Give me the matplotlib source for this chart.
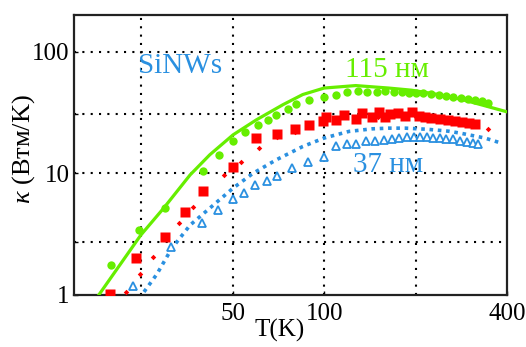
import matplotlib.pyplot as plt
import numpy as np

plt.rcParams['font.family'] = ['Liberation Serif', 'DejaVu Serif']
plt.rcParams['mathtext.fontset'] = 'custom'
plt.rcParams['mathtext.rm'] = 'Liberation Serif'
plt.rcParams['mathtext.it'] = 'Liberation Serif:italic'

# 115 nm fit (solid green line)
t_fit115 = [18.1, 24.9, 29.6, 36.2, 42.0, 50.1, 59.8, 73.1, 85.0, 100, 127, 163,
            194, 238, 283, 330, 400]
k_fit115 = [1.0, 3.11, 5.17, 9.72, 14.2, 20.7, 27.5, 36.6, 44.4, 50.2, 52.6, 50.2,
            48.2, 44.4, 40.5, 36.5, 32]

# 115 nm data (green circles)
t_dat115 = [19.8, 24.5, 30.0, 40, 45.1, 49.9, 54.7, 60.5, 65.2, 69.5, 75.8, 80.8,
            89.3, 100, 109.2, 119.2, 129.5, 138.6, 149.4, 159, 170, 180, 190, 200,
            212, 225, 238, 252, 266, 282, 298, 314, 330, 345]
k_dat115 = [1.77, 3.42, 5.23, 10.35, 14.2, 18.3, 21.8, 25.1, 27.2, 29.9, 34.0, 37.2,
            40.0, 42.0, 44.4, 46.5, 47.6, 46.5, 46.5, 47.6, 46.5, 46.8, 46.0, 46.0,
            45.3, 44.8, 44.0, 43.3, 42.6, 41.7, 40.8, 40.0, 39.0, 38.0]

# middle wire data (red squares)
t_red = [19.7, 24.0, 29.8, 34.7, 40, 49.9, 59.4, 70, 80.4, 88.9, 98.8, 101.3,
         109.2, 116.2, 127, 133.5, 144.1, 152, 159, 165, 175, 185, 195, 205, 215,
         225, 240, 255, 270, 285, 300, 314]
k_red = [1.02, 2.03, 3.02, 4.79, 7.18, 11.2, 19.5, 21.2, 23.2, 25.1, 26.7, 28.8,
         27.5, 29.9, 28.1, 31.3, 28.8, 31.6, 28.8, 30.5, 31.3, 29.5, 31.6, 29.8, 29.0,
         28.5, 28.0, 27.5, 27.0, 26.5, 26.0, 25.5]

# middle wire model (small red dots)
t_red2 = [22.3, 24.7, 27.3, 33.3, 37.0, 46.8, 53.1, 60.8, 70, 80, 100, 150, 200,
          250, 300, 347]
k_red2 = [1.06, 1.48, 2.04, 3.93, 5.33, 9.72, 12.5, 16.1, 19.8, 22, 26, 29, 29,
          27, 25, 23.1]

# 37 nm fit (blue dotted line)
t_fit37 = [25.5, 28.1, 31.5, 36.2, 42, 50.1, 58.3, 69.5, 85, 100, 120.7, 144, 163,
           185, 219, 256, 283, 338, 383]
k_fit37 = [1.06, 1.48, 2.42, 3.76, 5.17, 7.55, 10.0, 12.9, 16.6, 19.5, 22.1, 23.2,
           23.5, 23.5, 23.0, 22.2, 21.3, 19.5, 17.7]

# 37 nm data (blue triangles)
t_dat37 = [23.5, 31.3, 39.5, 44.8, 49.9, 54.6, 59.3, 64.8, 69.9, 78.6, 88.6, 99.5,
           109.7, 119.2, 127.6, 137.6, 147, 157, 167, 177, 187, 197, 207, 218, 229,
           240, 252, 265, 280, 295, 310, 320]
k_dat37 = [1.19, 2.5, 3.89, 5.0, 6.13, 6.86, 8.04, 8.66, 9.5, 11.1, 12.5, 13.7,
           16.8, 17.5, 17.5, 18.3, 18.3, 18.8, 19.2, 19.5, 19.7, 19.9, 19.9, 19.8,
           19.6, 19.4, 19.2, 19.0, 18.6, 18.2, 17.8, 17.4]

green = '#66ee00'
red = '#ff0000'
blue = '#2a90e0'

fig = plt.figure(figsize=(5.26, 3.47), dpi=100)
ax = fig.add_axes([0.1407, 0.1499, 0.8232, 0.8069])

ax.plot(t_fit115, k_fit115, '-', color=green, lw=2.3, zorder=3)
ax.plot(t_dat115, k_dat115, 'o', color=green, ms=6, mec='none', zorder=4)
ax.plot(t_red, k_red, 's', color=red, ms=6.5, mec='none', zorder=4)
ax.plot(t_red2, k_red2, 'D', color=red, ms=2.8, mec='none', zorder=4)
ax.plot(t_fit37, k_fit37, color=blue, lw=2.6, ls=(0, (1, 1.3)), zorder=3)
ax.plot(t_dat37, k_dat37, '^', mfc='white', mec=blue, mew=1.3, ms=6, zorder=4)

ax.set_xscale('log')
ax.set_yscale('log')
ax.set_xlim(15, 400)
ax.set_ylim(1, 200)

for xv in [25, 50, 100, 200]:
    ax.axvline(xv, color='black', lw=1.5, ls=(0, (1, 3)), zorder=1)
for yv in [2.7, 10, 31, 100]:
    ax.axhline(yv, color='black', lw=1.5, ls=(0, (1, 3)), zorder=1)

ax.set_xticks([50, 100, 400])
ax.set_xticklabels(['50', '100', '400'])
ax.set_xticks([], minor=True)
ax.set_yticks([1, 10, 100])
ax.set_yticklabels(['1', '10', '100'])
ax.set_yticks([2.7, 31], minor=True)
ax.tick_params(which='both', direction='in', length=3, width=1, labelsize=18)
ax.tick_params(axis='x', pad=6)
ax.tick_params(axis='y', pad=3)
ax.tick_params(which='minor', labelleft=False)

for s in ax.spines.values():
    s.set_linewidth(1.6)
    s.set_color('#222222')

ax.set_xlabel('T(K)', fontsize=18)
ax.xaxis.set_label_coords(0.476, -0.085)
ax.set_ylabel('$\\mathit{\\kappa}$ (Втм/K)', fontsize=19)
ax.yaxis.set_label_coords(-0.085, 0.52)

ax.text(24.4, 67, 'SiNWs', color=blue, fontsize=21)
ax.text(117, 62, '115 нм', color=green, fontsize=21)
ax.text(124, 10.2, '37 нм', color=blue, fontsize=21)

fig.savefig('out.png', dpi=100)
